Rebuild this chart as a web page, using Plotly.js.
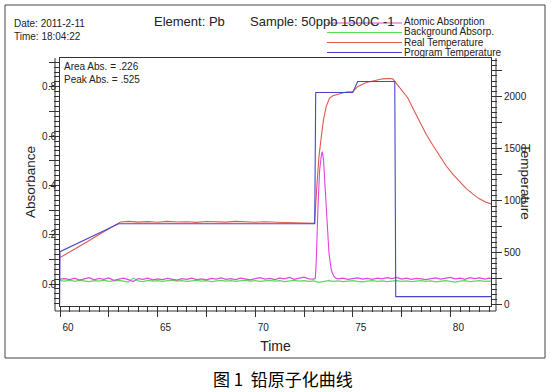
<!DOCTYPE html>
<html>
<head>
<meta charset="utf-8">
<script src="https://cdn.plot.ly/plotly-3.0.1.min.js"></script>
<style>html,body{margin:0;padding:0;background:#fff;}#chart{width:553px;height:392px;}</style>
</head>
<body>
<div id="chart"></div>
<script>
// ---- Data ----
const atomTime = [60.00,60.25,60.50,60.75,61.00,61.25,61.50,61.75,62.00,62.25,62.50,62.75,63.00,63.25,63.50,63.75,64.00,64.25,64.50,64.75,65.00,65.25,65.50,65.75,66.00,66.25,66.50,66.75,67.00,67.25,67.50,67.75,68.00,68.25,68.50,68.75,69.00,69.25,69.50,69.75,70.00,70.25,70.50,70.75,71.00,71.25,71.50,71.75,72.00,72.25,72.50,72.75,73.00,
  73.08,73.13,73.21,73.30,73.39,73.44,73.50,73.59,73.67,73.78,73.90,74.02,74.15,
  74.25,74.50,74.75,75.00,75.25,75.50,75.75,76.00,76.25,76.50,76.75,77.00,77.25,77.50,77.75,78.00,78.25,78.50,78.75,79.00,79.25,79.50,79.75,80.00,80.25,80.50,80.75,81.00,81.25,81.50,81.75,82.00,82.10];
const atomAbs = [0.020,0.022,0.018,0.024,0.016,0.021,0.026,0.017,0.023,0.019,0.025,0.015,0.020,0.024,0.018,0.010,0.022,0.019,0.024,0.017,0.021,0.018,0.023,0.020,0.016,0.022,0.019,0.024,0.018,0.021,0.017,0.023,0.020,0.025,0.019,0.022,0.018,0.024,0.021,0.017,0.022,0.026,0.020,0.023,0.018,0.024,0.021,0.027,0.019,0.023,0.028,0.021,0.020,
  0.023,0.097,0.300,0.462,0.523,0.537,0.503,0.368,0.233,0.125,0.057,0.032,0.023,
  0.021,0.024,0.019,0.022,0.025,0.020,0.023,0.019,0.024,0.021,0.026,0.022,0.027,0.020,0.024,0.019,0.023,0.021,0.018,0.022,0.025,0.020,0.023,0.027,0.021,0.024,0.019,0.026,0.022,0.025,0.020,0.024,0.022];

const bgTime = [60.00,60.25,60.50,60.75,61.00,61.25,61.50,61.75,62.00,62.25,62.50,62.75,63.00,63.25,63.50,63.75,64.00,64.25,64.50,64.75,65.00,65.25,65.50,65.75,66.00,66.25,66.50,66.75,67.00,67.25,67.50,67.75,68.00,68.25,68.50,68.75,69.00,69.25,69.50,69.75,70.00,70.25,70.50,70.75,71.00,71.25,71.50,71.75,72.00,72.25,72.50,72.75,73.00,73.25,73.50,73.75,74.00,74.25,74.50,74.75,75.00,75.25,75.50,75.75,76.00,76.25,76.50,76.75,77.00,77.25,77.50,77.75,78.00,78.25,78.50,78.75,79.00,79.25,79.50,79.75,80.00,80.25,80.50,80.75,81.00,81.25,81.50,81.75,82.00,82.10];
const bgAbs = [0.014,0.012,0.016,0.011,0.015,0.013,0.010,0.014,0.012,0.016,0.011,0.013,0.015,0.012,0.008,0.024,0.013,0.010,0.015,0.012,0.014,0.011,0.013,0.016,0.012,0.014,0.011,0.013,0.015,0.012,0.014,0.010,0.013,0.015,0.012,0.014,0.011,0.013,0.016,0.012,0.014,0.011,0.013,0.015,0.012,0.014,0.010,0.013,0.015,0.012,0.014,0.011,0.013,0.007,0.012,0.014,0.011,0.013,0.010,0.012,0.014,0.011,0.009,0.012,0.014,0.011,0.013,0.010,0.012,0.014,0.011,0.013,0.010,0.012,0.014,0.011,0.013,0.009,0.012,0.014,0.011,0.008,0.012,0.014,0.010,0.012,0.014,0.011,0.013,0.012];

const realTime = [60.00,60.50,61.00,61.50,62.00,62.50,63.00,63.10,63.50,64.00,64.50,65.00,65.50,66.00,66.50,67.00,67.50,68.00,68.50,69.00,69.50,70.00,70.50,71.00,71.50,72.00,72.50,72.90,73.04,
  73.16,73.27,73.39,73.50,73.64,73.81,73.98,74.24,74.66,75.00,75.26,75.69,76.20,76.54,76.88,77.05,77.22,77.56,77.82,78.07,78.41,78.76,79.10,79.44,79.78,80.12,80.46,80.80,81.14,81.48,81.83,82.10];
const realTemp = [455,508,562,618,677,735,792,797,802,795,800,794,802,796,799,793,801,797,795,802,796,794,799,793,791,789,787,785,785,
  1145,1431,1621,1780,1907,1987,2009,2025,2044,2050,2098,2136,2155,2171,2174,2171,2130,2050,1987,1892,1764,1638,1533,1431,1336,1257,1183,1120,1066,1019,987,970];

const progTime = [59.98,60.00,63.00,73.05,73.10,75.00,75.25,77.15,77.20,82.10];
const progTemp = [0,512,780,780,2040,2040,2145,2145,80,80];

const xTickVals = [60,62.5,65,67.5,70,72.5,75,77.5,80];
const xTickText = ['60','','65','','70','','75','','80'];
const yTickVals = [0,0.1,0.2,0.3,0.4,0.5,0.6,0.7,0.8,0.9];
const yTickText = ['0.0','','0.2','','0.4','','0.6','','0.8',''];
const y2TickVals = [0,250,500,750,1000,1250,1500,1750,2000,2250];
const y2TickText = ['0','','500','','1000','','1500','','2000',''];

const seriesNames = ['Atomic Absorption','Background Absorp.','Real Temperature','Program Temperature'];
const seriesColors = ['#e044e0','#55dd55','#da5a50','#4646cc'];

// ---- pixel -> paper helpers (layout only) ----
const L = 60, R = 491, T = 58, B = 306;
const PW = R - L, PH = B - T;
const px = x => (x - L) / PW;
const py = y => (B - y) / PH;

const FONT = 'Liberation Sans, Arial, sans-serif';
const INK = '#333';
const LW = 1.1;

const traces = [
  {x: bgTime, y: bgAbs, name: seriesNames[1], type: 'scatter', mode: 'lines', line: {color: seriesColors[1], width: LW}, yaxis: 'y'},
  {x: atomTime, y: atomAbs, name: seriesNames[0], type: 'scatter', mode: 'lines', line: {color: seriesColors[0], width: LW}, yaxis: 'y'},
  {x: realTime, y: realTemp, name: seriesNames[2], type: 'scatter', mode: 'lines', line: {color: seriesColors[2], width: LW}, yaxis: 'y2'},
  {x: progTime, y: progTemp, name: seriesNames[3], type: 'scatter', mode: 'lines', line: {color: seriesColors[3], width: LW}, yaxis: 'y2'}
];

const tickFont = {family: FONT, size: 10, color: '#222'};

const layout = {
  width: 553, height: 392,
  margin: {l: L, r: 553 - R, t: T, b: 392 - B, pad: 0},
  paper_bgcolor: '#fff', plot_bgcolor: '#fff',
  showlegend: false,
  font: {family: FONT, color: '#222'},
  xaxis: {
    range: [60, 82.08], showgrid: false, zeroline: false,
    showline: true, linecolor: INK, linewidth: 1, mirror: true,
    tickmode: 'array', tickvals: xTickVals, ticktext: xTickText,
    ticks: 'outside', ticklen: 10, tickcolor: INK, tickwidth: 1,
    minor: {dtick: 0.5, tick0: 60, ticks: 'outside', ticklen: 5, tickcolor: INK, tickwidth: 1, showgrid: false},
    tickfont: tickFont, ticklabelshift: 8, ticklabelstandoff: 2,
    title: {text: 'Time', font: {family: FONT, size: 14, color: '#222'}, standoff: 9}
  },
  yaxis: {
    range: [-0.089, 0.917], showgrid: false, zeroline: false,
    showline: true, linecolor: INK, linewidth: 1,
    tickmode: 'array', tickvals: yTickVals, ticktext: yTickText,
    ticks: 'outside', ticklen: 10, tickcolor: INK, tickwidth: 1,
    minor: {dtick: 0.02, tick0: 0, ticks: 'outside', ticklen: 5, tickcolor: INK, tickwidth: 1, showgrid: false},
    tickfont: tickFont, ticklabelstandoff: -9
  },
  yaxis2: {
    overlaying: 'y', side: 'right', anchor: 'x',
    range: [-10, 2371], showgrid: false, zeroline: false,
    showline: true, linecolor: INK, linewidth: 1,
    tickmode: 'array', tickvals: y2TickVals, ticktext: y2TickText,
    ticks: 'outside', ticklen: 10, tickcolor: INK, tickwidth: 1,
    minor: {dtick: 50, tick0: 0, ticks: 'outside', ticklen: 5, tickcolor: INK, tickwidth: 1, showgrid: false},
    tickfont: tickFont
  },
  shapes: [
    {type: 'rect', xref: 'paper', yref: 'paper', x0: px(5), x1: px(545), y0: py(358), y1: py(5), line: {color: '#444', width: 1}, layer: 'below'},
    {type: 'line', xref: 'paper', yref: 'paper', x0: px(55), x1: px(55), y0: py(311), y1: 1, line: {color: INK, width: 1}},
    {type: 'line', xref: 'paper', yref: 'paper', x0: px(496), x1: px(496), y0: py(311), y1: 1, line: {color: INK, width: 1}},
    {type: 'line', xref: 'paper', yref: 'paper', x0: px(55), x1: px(496), y0: py(311), y1: py(311), line: {color: INK, width: 1}},
    {type: 'line', xref: 'paper', yref: 'paper', x0: px(327), x1: px(402), y0: py(23), y1: py(23), line: {color: seriesColors[0], width: LW}},
    {type: 'line', xref: 'paper', yref: 'paper', x0: px(327), x1: px(402), y0: py(32.5), y1: py(32.5), line: {color: seriesColors[1], width: LW}},
    {type: 'line', xref: 'paper', yref: 'paper', x0: px(327), x1: px(402), y0: py(42.5), y1: py(42.5), line: {color: seriesColors[2], width: LW}},
    {type: 'line', xref: 'paper', yref: 'paper', x0: px(327), x1: px(402), y0: py(52.5), y1: py(52.5), line: {color: seriesColors[3], width: LW}}
  ],
  annotations: [
    {text: 'Date: 2011-2-11', x: px(12), y: py(23), xref: 'paper', yref: 'paper', xanchor: 'left', yanchor: 'middle', showarrow: false, font: {family: FONT, size: 10, color: '#222'}},
    {text: 'Time: 18:04:22', x: px(12), y: py(37), xref: 'paper', yref: 'paper', xanchor: 'left', yanchor: 'middle', showarrow: false, font: {family: FONT, size: 10, color: '#222'}},
    {text: 'Element: Pb', x: px(152), y: py(22), xref: 'paper', yref: 'paper', xanchor: 'left', yanchor: 'middle', showarrow: false, font: {family: FONT, size: 13, color: '#222'}},
    {text: 'Sample: 50ppb 1500C -1', x: px(248), y: py(22), xref: 'paper', yref: 'paper', xanchor: 'left', yanchor: 'middle', showarrow: false, font: {family: FONT, size: 13, color: '#222'}},
    {text: seriesNames[0], x: px(402), y: py(21.5), xref: 'paper', yref: 'paper', xanchor: 'left', yanchor: 'middle', showarrow: false, font: {family: FONT, size: 10, color: '#222'}},
    {text: seriesNames[1], x: px(402), y: py(31.5), xref: 'paper', yref: 'paper', xanchor: 'left', yanchor: 'middle', showarrow: false, font: {family: FONT, size: 10, color: '#222'}},
    {text: seriesNames[2], x: px(402), y: py(42), xref: 'paper', yref: 'paper', xanchor: 'left', yanchor: 'middle', showarrow: false, font: {family: FONT, size: 10, color: '#222'}},
    {text: seriesNames[3], x: px(402), y: py(52.5), xref: 'paper', yref: 'paper', xanchor: 'left', yanchor: 'middle', showarrow: false, font: {family: FONT, size: 10, color: '#222'}},
    {text: 'Area Abs. = .226', x: px(62), y: py(66), xref: 'paper', yref: 'paper', xanchor: 'left', yanchor: 'middle', showarrow: false, font: {family: FONT, size: 10, color: '#222'}},
    {text: 'Peak Abs. = .525', x: px(62), y: py(79.5), xref: 'paper', yref: 'paper', xanchor: 'left', yanchor: 'middle', showarrow: false, font: {family: FONT, size: 10, color: '#222'}},
    {text: 'Absorbance', x: px(30), y: py(182), xref: 'paper', yref: 'paper', xanchor: 'center', yanchor: 'middle', textangle: -90, showarrow: false, font: {family: FONT, size: 13.5, color: '#222'}},
    {text: 'Temperature', x: px(526), y: py(182), xref: 'paper', yref: 'paper', xanchor: 'center', yanchor: 'middle', textangle: 90, showarrow: false, font: {family: FONT, size: 13.5, color: '#222'}},
    {text: '图 1  铅原子化曲线', x: px(283), y: py(378), xref: 'paper', yref: 'paper', xanchor: 'center', yanchor: 'middle', showarrow: false, font: {family: 'Noto Sans CJK SC, sans-serif', size: 17, color: '#000'}}
  ]
};

Plotly.newPlot('chart', traces, layout, {staticPlot: true, displayModeBar: false});
</script>
</body>
</html>
